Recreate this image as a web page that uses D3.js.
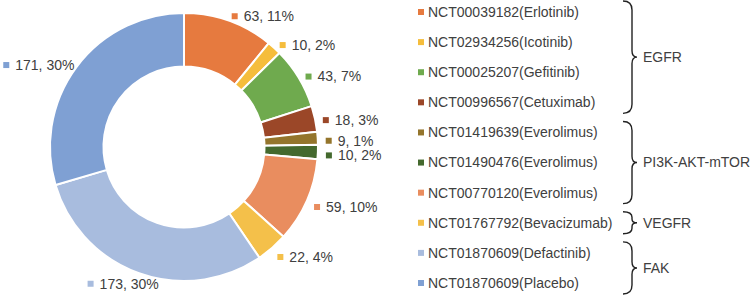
<!DOCTYPE html>
<html>
<head>
<meta charset="utf-8">
<script src="https://cdn.jsdelivr.net/npm/d3@7"></script>
<style>
  body { margin:0; background:#fff; }
  text { font-family: "Liberation Sans", Arial, sans-serif; fill:#404040; }
</style>
</head>
<body>
<div id="chart"></div>
<script>
const trials = ["NCT00039182(Erlotinib)","NCT02934256(Icotinib)","NCT00025207(Gefitinib)","NCT00996567(Cetuximab)",
  "NCT01419639(Everolimus)","NCT01490476(Everolimus)","NCT00770120(Everolimus)","NCT01767792(Bevacizumab)",
  "NCT01870609(Defactinib)","NCT01870609(Placebo)"];
const counts = [63, 10, 43, 18, 9, 10, 59, 22, 173, 171];
const percents = ["11%","2%","7%","3%","1%","2%","10%","4%","30%","30%"];
const sliceColors = ["#E67A3F","#F5BD3C","#6FAA4E","#9B4728","#94752C","#44692E","#E98D5F","#F4C04A","#A8BCDE","#7FA0D3"];
const groups = ["EGFR","PI3K-AKT-mTOR","VEGFR","FAK"];
const groupFirst = [0, 4, 7, 8];
const groupLast = [3, 6, 7, 9];

(function() {
  const width = 750, height = 297;
  const cx = 184, cy = 147, outerR = 134, innerR = 80.5;

  const svg = d3.select("#chart").append("svg").attr("width", width).attr("height", height);

  const data = counts.map((v,i) => ({ name: trials[i], value: v, pct: percents[i], color: sliceColors[i], idx: i }));
  const pie = d3.pie().sort(null).value(d => d.value);
  const arcs = pie(data);
  const arc = d3.arc().innerRadius(innerR).outerRadius(outerR);

  const g = svg.append("g").attr("transform", `translate(${cx},${cy})`);
  g.selectAll("path").data(arcs).enter().append("path")
    .attr("d", arc).attr("fill", d => d.data.color)
    .attr("stroke", "#fff").attr("stroke-width", 2).attr("stroke-linejoin", "round");

  // data labels: small square + "value, pct"
  const labelR = outerR + 8;
  arcs.forEach(a => {
    const mid = (a.startAngle + a.endAngle) / 2;
    const s = Math.sin(mid), c = Math.cos(mid);
    const px = cx + labelR * s, py = cy - labelR * c;
    const lg = svg.append("g");
    const t = lg.append("text").attr("x", 12).attr("y", 0).attr("dy", "0.35em")
      .style("font-size", "14px").text(`${a.data.value}, ${a.data.pct}`);
    const w = 12 + t.node().getComputedTextLength();
    lg.insert("rect", "text").attr("x", 0).attr("y", -3).attr("width", 6).attr("height", 6).attr("fill", a.data.color);
    const tt = s > 0 ? 1 : Math.max(0, Math.min(1, 0.5 + 0.55 * s));
    const left = px - w * (1 - tt);
    lg.attr("transform", `translate(${left},${py + 3})`);
  });

  // legend
  const ly = d3.scalePoint().domain(d3.range(trials.length)).range([12, 283]);
  const legend = svg.append("g");
  trials.forEach((name, i) => {
    legend.append("rect").attr("x", 418).attr("y", ly(i) - 3).attr("width", 6).attr("height", 6).attr("fill", sliceColors[i]);
    legend.append("text").attr("x", 428).attr("y", ly(i)).attr("dy", "0.35em")
      .style("font-size", "14px").text(name);
  });

  // group braces
  const bx0 = 623, bx1 = 632, bx2 = 637;
  groups.forEach((grp, k) => {
    const top = ly(groupFirst[k]) - 11, bot = ly(groupLast[k]) + 11, mid = (top + bot) / 2;
    const cr = Math.min(9, (bot - top) / 4);
    const p = d3.path();
    p.moveTo(bx0, top);
    p.quadraticCurveTo(bx1, top, bx1, top + cr);
    p.lineTo(bx1, mid - cr * 0.7);
    p.quadraticCurveTo(bx1, mid, bx2, mid);
    p.quadraticCurveTo(bx1, mid, bx1, mid + cr * 0.7);
    p.lineTo(bx1, bot - cr);
    p.quadraticCurveTo(bx1, bot, bx0, bot);
    svg.append("path").attr("d", p.toString()).attr("fill", "none").attr("stroke", "#222").attr("stroke-width", 1.4);
    svg.append("text").attr("x", 643).attr("y", mid).attr("dy", "0.35em")
      .style("font-size", "14px").text(grp);
  });
})();
</script>
</body>
</html>
